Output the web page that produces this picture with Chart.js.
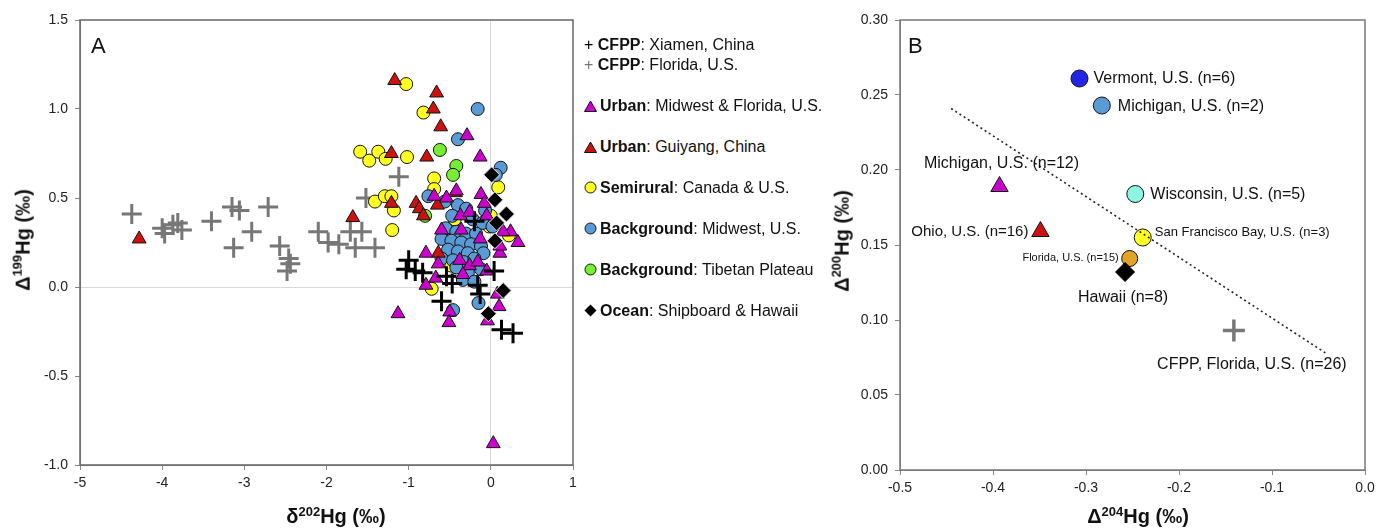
<!DOCTYPE html>
<html>
<head>
<meta charset="utf-8">
<title>Hg isotopes</title>
<script src="https://cdn.jsdelivr.net/npm/chart.js@4.4.1/dist/chart.umd.min.js"></script>
<style>
  body {
    margin: 0;
    width: 1377px;
    height: 528px;
    position: relative;
    overflow: hidden;
    background: #fff;
    color: #111;
    font-family: "Liberation Sans", Arial, sans-serif;
  }
  #chartA { position: absolute; left: 0; top: 0; }
  #chartB { position: absolute; left: 780px; top: 0; }
  .title { position: absolute; font-weight: bold; font-size: 20px; white-space: nowrap; }
  .title sup { font-size: 13px; }
  .ytitle { transform: translate(-50%, -50%) rotate(-90deg); }
  .xtitle { transform: translate(-50%, -50%); }
  .panel { position: absolute; font-size: 22px; transform: translateY(-50%); }
  #legend { position: absolute; left: 584px; top: 0; font-size: 16px; }
  #legend .row { position: absolute; white-space: nowrap; transform: translateY(-50%); }
  #legend svg { vertical-align: -1px; margin-right: 3px; }
</style>
</head>
<body>
<canvas id="chartA" width="580" height="528"></canvas>
<canvas id="chartB" width="597" height="528"></canvas>

<div class="panel" style="left:91px; top:46px;">A</div>
<div class="panel" style="left:908px; top:46px;">B</div>

<div class="title ytitle" style="left:22px; top:240px;">&Delta;<sup>199</sup>Hg (&permil;)</div>
<div class="title xtitle" style="left:336px; top:516px;">&delta;<sup>202</sup>Hg (&permil;)</div>
<div class="title ytitle" style="left:841px; top:241px;">&Delta;<sup>200</sup>Hg (&permil;)</div>
<div class="title xtitle" style="left:1138px; top:516px;">&Delta;<sup>204</sup>Hg (&permil;)</div>

<div id="legend"></div>

<script>
// ---- Panel A: delta202Hg (x) vs Delta199Hg (y), per source type ----
const cfppXiamen = [
  [-1.00, 0.15], [-1.03, 0.10], [-0.92, 0.09], [-0.83, 0.08], [-0.54, 0.06],
  [-0.47, 0.02], [-0.60, -0.08], [-0.20, 0.37], [-0.16, 0.01], [-0.13, -0.04],
  [0.04, 0.09], [0.13, -0.24], [0.27, -0.26]
];
const cfppFlorida = [
  [-4.37, 0.41], [-4.00, 0.33], [-3.97, 0.30], [-3.87, 0.35], [-3.81, 0.36],
  [-3.76, 0.32], [-3.40, 0.37], [-3.15, 0.45], [-3.06, 0.43], [-3.13, 0.22],
  [-2.91, 0.31], [-2.71, 0.45], [-2.57, 0.23], [-2.46, 0.16], [-2.44, 0.13],
  [-2.48, 0.09], [-2.10, 0.31], [-1.98, 0.25], [-1.85, 0.24], [-1.71, 0.31],
  [-1.65, 0.22], [-1.57, 0.31], [-1.41, 0.22], [-1.52, 0.50], [-1.12, 0.62]
];
const urbanUS = [
  [-0.29, 0.85], [-0.13, 0.73], [-0.69, 0.51], [-0.54, 0.50], [-0.42, 0.54],
  [-0.12, 0.52], [-0.08, 0.47], [-0.37, 0.40], [-0.26, 0.42], [-0.05, 0.40],
  [-0.60, 0.32], [-0.36, 0.32], [-0.13, 0.27], [0.11, 0.19], [0.33, 0.25],
  [0.24, 0.31], [0.15, 0.31], [-0.79, 0.19], [-0.64, 0.13], [-0.38, 0.15],
  [-0.26, 0.12], [-0.16, 0.14], [-0.05, 0.09], [-0.34, 0.07], [-0.79, 0.01],
  [-0.67, 0.05], [-0.50, -0.14], [-0.51, -0.20], [-1.13, -0.15], [0.08, -0.04],
  [0.10, -0.11], [-0.04, -0.19], [0.03, -0.88], [0.11, 0.23]
];
const urbanGuiyang = [
  [-4.28, 0.27], [-1.68, 0.39], [-1.17, 1.16], [-0.66, 1.09], [-0.70, 1.00],
  [-0.61, 0.90], [-1.21, 0.75], [-0.78, 0.73], [-1.21, 0.47], [-0.91, 0.47],
  [-0.87, 0.44], [-0.82, 0.40], [-0.65, 0.46], [-0.43, 0.53], [-0.64, 0.19]
];
const semirural = [
  [-1.03, 1.14], [-0.82, 0.98], [-1.59, 0.76], [-1.48, 0.71], [-1.37, 0.76],
  [-1.28, 0.72], [-1.02, 0.73], [-0.69, 0.61], [-0.69, 0.55], [-1.41, 0.48],
  [-1.29, 0.51], [-1.21, 0.51], [-1.18, 0.43], [-1.20, 0.32], [0.09, 0.56],
  [-0.44, 0.38], [-0.48, 0.12], [-0.02, 0.34], [0.22, 0.29], [-0.72, -0.01],
  [0.00, 0.40]
];
const bgMidwest = [
  [-0.16, 1.00], [-0.40, 0.83], [0.12, 0.67], [0.06, 0.63], [-0.76, 0.51],
  [-0.56, 0.48], [-0.40, 0.46], [-0.30, 0.44], [-0.47, 0.40], [-0.22, 0.38],
  [-0.10, 0.36], [-0.55, 0.33], [-0.42, 0.31], [-0.30, 0.30], [-0.18, 0.30],
  [-0.60, 0.27], [-0.48, 0.26], [-0.36, 0.25], [-0.24, 0.24], [-0.12, 0.23],
  [-0.52, 0.21], [-0.40, 0.20], [-0.28, 0.19], [-0.09, 0.19], [-0.60, 0.16],
  [-0.46, 0.15], [-0.33, 0.14], [-0.20, 0.16], [-0.42, 0.11], [-0.28, 0.08],
  [-0.12, 0.10], [-0.34, 0.04], [-0.20, 0.03], [-0.15, -0.09], [-0.46, -0.13],
  [-0.07, 0.43], [0.02, 0.34]
];
const bgTibet = [
  [-0.62, 0.77], [-0.42, 0.68], [-0.46, 0.63], [-0.80, 0.40]
];
const ocean = [
  [0.01, 0.63], [0.05, 0.49], [0.19, 0.41], [0.07, 0.36], [0.05, 0.26],
  [0.15, -0.02], [-0.03, -0.15]
];

const legendGroups = ["CFPP", "CFPP", "Urban", "Urban", "Semirural", "Background", "Background", "Ocean"];
const legendPlaces = ["Xiamen, China", "Florida, U.S.", "Midwest & Florida, U.S.", "Guiyang, China",
  "Canada & U.S.", "Midwest, U.S.", "Tibetan Plateau", "Shipboard & Hawaii"];

const xTicksA = [-5, -4, -3, -2, -1, 0, 1];
const yTicksA = [-1.0, -0.5, 0.0, 0.5, 1.0, 1.5];

// ---- Panel B: Delta204Hg (x) vs Delta200Hg (y), site means ----
const sitesB = ["Vermont, U.S. (n=6)", "Michigan, U.S. (n=2)", "Michigan, U.S. (n=12)",
  "Wisconsin, U.S. (n=5)", "Ohio, U.S. (n=16)", "San Francisco Bay, U.S. (n=3)",
  "Florida, U.S. (n=15)", "Hawaii (n=8)", "CFPP, Florida, U.S. (n=26)"];
const d204B = [-0.307, -0.283, -0.393, -0.247, -0.349, -0.239, -0.253, -0.258, -0.141];
const d200B = [0.261, 0.243, 0.189, 0.184, 0.159, 0.155, 0.141, 0.132, 0.093];
const trendX = [-0.445, -0.040];
const trendY = [0.241, 0.077];

const xTicksB = [-0.5, -0.4, -0.3, -0.2, -0.1, 0.0];
const yTicksB = [0.00, 0.05, 0.10, 0.15, 0.20, 0.25, 0.30];

Chart.defaults.font.family = "'Liberation Sans', Arial, sans-serif";
Chart.defaults.font.size = 14;
Chart.defaults.color = "#222";

function toPoints(pairs) {
  return pairs.map(p => ({ x: p[0], y: p[1] }));
}

// plot-area border
const framePlugin = {
  id: "frame",
  beforeDatasetsDraw(chart, args, opts) {
    const a = chart.chartArea;
    const ctx = chart.ctx;
    ctx.save();
    ctx.strokeStyle = opts.color;
    ctx.lineWidth = opts.width;
    ctx.strokeRect(a.left, a.top, a.right - a.left, a.bottom - a.top);
    ctx.restore();
  }
};

// labels next to the panel B points
const labelStyle = [
  { dx: 14, dy: 0, align: "left", size: 16 },
  { dx: 16, dy: 1, align: "left", size: 16 },
  { dx: 2, dy: -23, align: "center", size: 16 },
  { dx: 15, dy: 1, align: "left", size: 16 },
  { dx: -12, dy: 0, align: "right", size: 15 },
  { dx: 12, dy: -5, align: "left", size: 13 },
  { dx: -11, dy: -1, align: "right", size: 11 },
  { dx: -2, dy: 26, align: "center", size: 16 },
  { dx: 18, dy: 34, align: "center", size: 16 }
];
const pointLabelPlugin = {
  id: "pointLabels",
  afterDatasetsDraw(chart) {
    const ctx = chart.ctx;
    const xs = chart.scales.x;
    const ys = chart.scales.y;
    ctx.save();
    ctx.fillStyle = "#111";
    ctx.textBaseline = "middle";
    sitesB.forEach((name, i) => {
      const s = labelStyle[i];
      ctx.font = s.size + "px 'Liberation Sans', Arial, sans-serif";
      ctx.textAlign = s.align;
      ctx.fillText(name, xs.getPixelForValue(d204B[i]) + s.dx, ys.getPixelForValue(d200B[i]) + s.dy);
    });
    ctx.restore();
  }
};

function fixTicks(values) {
  return function (scale) {
    scale.ticks = values.map(v => ({ value: v }));
  };
}

// ---------- chart A ----------
function marker(style, fill, radius, border, borderWidth) {
  return {
    pointStyle: style,
    pointRadius: radius,
    pointBackgroundColor: fill,
    pointBorderColor: border,
    pointBorderWidth: borderWidth
  };
}

new Chart(document.getElementById("chartA"), {
  type: "scatter",
  data: {
    datasets: [
      Object.assign({ data: toPoints(cfppXiamen) }, marker("cross", "#000", 10, "#000", 3)),
      Object.assign({ data: toPoints(ocean) }, marker("rectRot", "#000", 8, "#e8e8e8", 1)),
      Object.assign({ data: toPoints(urbanUS) }, marker("triangle", "#cc00cc", 8, "#111", 1)),
      Object.assign({ data: toPoints(urbanGuiyang) }, marker("triangle", "#cc1111", 8, "#111", 1)),
      Object.assign({ data: toPoints(bgMidwest) }, marker("circle", "#5b9bd5", 6.5, "#111", 1)),
      Object.assign({ data: toPoints(bgTibet) }, marker("circle", "#77ee33", 6.5, "#111", 1)),
      Object.assign({ data: toPoints(semirural) }, marker("circle", "#ffff22", 6.5, "#111", 1)),
      Object.assign({ data: toPoints(cfppFlorida) }, marker("cross", "#777", 10, "#777", 3))
    ]
  },
  options: {
    responsive: false,
    animation: false,
    events: [],
    layout: { autoPadding: false, padding: { left: 0, top: 20, right: 7, bottom: 0 } },
    plugins: {
      legend: { display: false },
      tooltip: { enabled: false },
      frame: { color: "#666", width: 1.5 }
    },
    scales: {
      x: {
        min: -5,
        max: 1,
        afterBuildTicks: fixTicks(xTicksA),
        afterFit: s => { s.height = 63; s.paddingLeft = 0; s.paddingRight = 0; },
        grid: {
          color: c => (c.tick && c.tick.value === 0 ? "#d9d9d9" : "rgba(0,0,0,0)"),
          tickColor: "#888",
          tickLength: 5
        },
        border: { color: "#888" },
        ticks: { padding: 5, callback: v => String(v) }
      },
      y: {
        min: -1,
        max: 1.5,
        afterBuildTicks: fixTicks(yTicksA),
        afterFit: s => { s.width = 80; s.paddingTop = 0; s.paddingBottom = 0; },
        grid: {
          color: c => (c.tick && c.tick.value === 0 ? "#d9d9d9" : "rgba(0,0,0,0)"),
          tickColor: "#888",
          tickLength: 5
        },
        border: { color: "#888" },
        ticks: { padding: 7, callback: v => v.toFixed(1) }
      }
    }
  },
  plugins: [framePlugin]
});

// ---------- legend A ----------
const legendRowsY = [45, 65, 106, 147, 188, 229, 270, 311];
const legendSymbols = [
  '<span style="color:#000">+</span> ',
  '<span style="color:#777">+</span> ',
  '<svg width="13" height="12"><polygon points="6.5,1 12.5,11.5 0.5,11.5" fill="#cc00cc" stroke="#111"/></svg>',
  '<svg width="13" height="12"><polygon points="6.5,1 12.5,11.5 0.5,11.5" fill="#cc1111" stroke="#111"/></svg>',
  '<svg width="13" height="13"><circle cx="6.5" cy="6.5" r="5.5" fill="#ffff22" stroke="#111"/></svg>',
  '<svg width="13" height="13"><circle cx="6.5" cy="6.5" r="5.5" fill="#5b9bd5" stroke="#111"/></svg>',
  '<svg width="13" height="13"><circle cx="6.5" cy="6.5" r="5.5" fill="#77ee33" stroke="#111"/></svg>',
  '<svg width="13" height="13"><polygon points="6.5,0.5 12.5,6.5 6.5,12.5 0.5,6.5" fill="#000"/></svg>'
];
const legendEl = document.getElementById("legend");
legendGroups.forEach((g, i) => {
  const row = document.createElement("div");
  row.className = "row";
  row.style.top = legendRowsY[i] + "px";
  row.innerHTML = legendSymbols[i] + "<b>" + g + "</b>: " + legendPlaces[i];
  legendEl.appendChild(row);
});

// ---------- chart B ----------
new Chart(document.getElementById("chartB"), {
  type: "scatter",
  data: {
    datasets: [
      {
        data: trendX.map((x, i) => ({ x: x, y: trendY[i] })),
        showLine: true,
        borderColor: "#222",
        borderWidth: 1.6,
        borderDash: [2, 3],
        pointRadius: 0
      },
      {
        data: d204B.map((x, i) => ({ x: x, y: d200B[i] })),
        pointStyle: ["circle", "circle", "triangle", "circle", "triangle", "circle", "circle", "rectRot", "cross"],
        pointRadius: [8.5, 8.5, 10, 8.5, 10, 8.5, 8, 9.5, 11],
        pointBackgroundColor: ["#2424e6", "#5b9bd5", "#cc00cc", "#8ef5e3", "#cc1111", "#ffff22", "#e0a526", "#000", "#777"],
        pointBorderColor: ["#111", "#111", "#111", "#111", "#111", "#111", "#111", "#000", "#777"],
        pointBorderWidth: [1, 1, 1, 1, 1, 1, 1, 1, 3.5]
      }
    ]
  },
  options: {
    responsive: false,
    animation: false,
    events: [],
    layout: { autoPadding: false, padding: { left: 0, top: 20, right: 12, bottom: 0 } },
    plugins: {
      legend: { display: false },
      tooltip: { enabled: false },
      frame: { color: "#777", width: 1.5 }
    },
    scales: {
      x: {
        min: -0.5,
        max: 0,
        afterBuildTicks: fixTicks(xTicksB),
        afterFit: s => { s.height = 58; s.paddingLeft = 0; s.paddingRight = 0; },
        grid: { color: "rgba(0,0,0,0)", tickColor: "#888", tickLength: 5 },
        border: { color: "#888" },
        ticks: { padding: 5, callback: v => v.toFixed(1) }
      },
      y: {
        min: 0,
        max: 0.3,
        afterBuildTicks: fixTicks(yTicksB),
        afterFit: s => { s.width = 120; s.paddingTop = 0; s.paddingBottom = 0; },
        grid: { color: "rgba(0,0,0,0)", tickColor: "#888", tickLength: 5 },
        border: { color: "#888" },
        ticks: { padding: 7, callback: v => v.toFixed(2) }
      }
    }
  },
  plugins: [framePlugin, pointLabelPlugin]
});
</script>
</body>
</html>
